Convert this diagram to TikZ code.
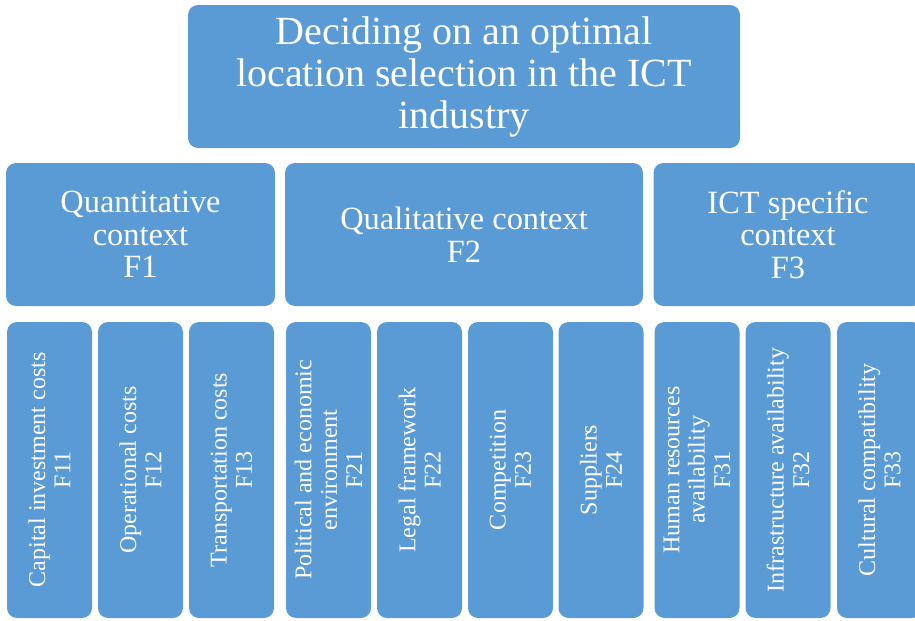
\documentclass[tikz,border=0pt]{standalone}
\usepackage{fontspec}
\setmainfont{Liberation Serif}
\usepackage{tikz}
\usetikzlibrary{positioning}
\definecolor{boxblue}{RGB}{91, 155, 213}

\begin{document}
\begin{tikzpicture}[x=0.75pt, y=-0.75pt,
        tile/.style={fill=boxblue, rounded corners=7.5pt, text=white, align=center, inner sep=0pt},
        goalbox/.style={tile, minimum width=414pt, minimum height=107.25pt, font=\fontsize{30}{31.5}\selectfont},
        contextbox/.style={tile, minimum height=107.25pt, font=\fontsize{24.3}{24.5}\selectfont},
        factorbox/.style={tile, rotate=90, minimum width=222pt, minimum height=63.75pt, font=\fontsize{18}{19}\selectfont}]
        % Frame
        \clip (0, 0) rectangle (915, 621);
        
        % Goal
        \node[goalbox] (goal) at (464, 76.5) {Deciding on an optimal\\location selection in the ICT\\industry};
        
        % Contexts
        \node[contextbox, minimum width=201.75pt] (f1) at (140.5, 234.5) {Quantitative\\context\\F1};
        \node[contextbox, minimum width=268.5pt] (f2) at (464, 234.5) {Qualitative context\\F2};
        \node[contextbox, minimum width=201.75pt] (f3) at (788, 234.5) {ICT specific\\context\\F3};
        
        % Factors of F1
        \node[factorbox] (f11) at (49.5, 470) {Capital investment costs\\F11};
        \node[factorbox] (f12) at (140.5, 470) {Operational costs\\F12};
        \node[factorbox] (f13) at (231.5, 470) {Transportation costs\\F13};
        
        % Factors of F2
        \node[factorbox] (f21) at (328.5, 470) {Political and economic\\environment\\F21};
        \node[factorbox] (f22) at (419.5, 470) {Legal framework\\F22};
        \node[factorbox] (f23) at (510.5, 470) {Competition\\F23};
        \node[factorbox] (f24) at (601, 470) {Suppliers\\F24};
        
        % Factors of F3
        \node[factorbox] (f31) at (697, 470) {Human resources\\availability\\F31};
        \node[factorbox] (f32) at (788, 470) {Infrastructure availability\\F32};
        \node[factorbox] (f33) at (879.5, 470) {Cultural compatibility\\F33};
    \end{tikzpicture}
\end{document}
